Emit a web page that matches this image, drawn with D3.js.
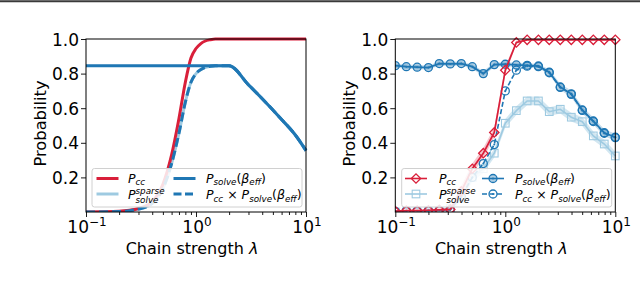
<!DOCTYPE html>
<html><head><meta charset="utf-8">
<script src="https://cdn.jsdelivr.net/npm/d3@7"></script>
<style>body{margin:0;background:#fff}svg{display:block}text{font-family:"DejaVu Sans",sans-serif}</style>
</head><body>
<svg id="c" width="640" height="283"></svg>
<script>
// ---------- data ----------
const yTicks = [0.2, 0.4, 0.6, 0.8, 1.0];
const xMajor = [0.1, 1, 10];
const xMajorExp = ["\u22121", "0", "1"];

// left panel (model curves)
const lamL      = [0.1, 0.2, 0.3, 0.4, 0.5, 0.6, 0.7, 0.8, 0.9, 1.0, 1.1, 1.2, 1.35, 1.5, 2.0, 3.0, 4.0, 6.0, 8.0, 10.0];
const pccL      = [0.0, 0.004, 0.02, 0.06, 0.16, 0.33, 0.54, 0.75, 0.89, 0.945, 0.972, 0.987, 0.996, 1.0, 1.0, 1.0, 1.0, 1.0, 1.0, 1.0];
const psolveL   = [0.845, 0.845, 0.845, 0.845, 0.845, 0.845, 0.845, 0.845, 0.845, 0.845, 0.845, 0.845, 0.845, 0.845, 0.845, 0.735, 0.655, 0.535, 0.445, 0.355];
const prodL     = [0.0, 0.003, 0.017, 0.05, 0.135, 0.28, 0.455, 0.635, 0.75, 0.80, 0.822, 0.834, 0.842, 0.845, 0.845, 0.735, 0.655, 0.535, 0.445, 0.355];
const sparseL   = [0.0, 0.003, 0.017, 0.05, 0.135, 0.28, 0.455, 0.635, 0.75, 0.80, 0.822, 0.834, 0.842, 0.845, 0.845, 0.735, 0.655, 0.535, 0.445, 0.355];

// right panel (measured points)
const lamR    = [0.1, 0.126, 0.158, 0.2, 0.251, 0.316, 0.398, 0.501, 0.631, 0.794, 1.0, 1.26, 1.58, 2.0, 2.51, 3.16, 3.98, 5.01, 6.31, 7.94, 10.0];
const pccR    = [0.005, 0.008, 0.008, 0.01, 0.012, 0.015, 0.12, 0.25, 0.34, 0.46, 0.82, 0.98, 0.995, 0.995, 0.995, 0.995, 0.995, 0.995, 0.995, 0.995, 0.995];
const psolveR = [0.846, 0.84, 0.837, 0.835, 0.858, 0.856, 0.858, 0.84, 0.80, 0.852, 0.854, 0.85, 0.848, 0.844, 0.808, 0.723, 0.683, 0.59, 0.526, 0.458, 0.432];
const prodR   = [0.004, 0.007, 0.007, 0.008, 0.01, 0.013, 0.09, 0.2, 0.28, 0.39, 0.70, 0.82, 0.843, 0.84, 0.805, 0.72, 0.68, 0.587, 0.523, 0.455, 0.43];
const sparseR = [0.0, 0.0, 0.0, 0.002, 0.005, 0.02, 0.08, 0.2, 0.25, 0.34, 0.513, 0.586, 0.642, 0.642, 0.58, 0.594, 0.548, 0.522, 0.44, 0.393, 0.324];
const errSolveR  = [0.012, 0.012, 0.012, 0.012, 0.012, 0.012, 0.012, 0.012, 0.015, 0.012, 0.012, 0.012, 0.012, 0.012, 0.015, 0.018, 0.02, 0.02, 0.02, 0.02, 0.02];
const errSparseR = [0.0, 0.0, 0.0, 0.004, 0.008, 0.015, 0.02, 0.025, 0.025, 0.025, 0.025, 0.025, 0.025, 0.025, 0.025, 0.025, 0.025, 0.025, 0.025, 0.025, 0.025];
const errPccR    = [0.004, 0.005, 0.005, 0.006, 0.008, 0.01, 0.03, 0.03, 0.03, 0.03, 0.025, 0.01, 0.004, 0.004, 0.004, 0.004, 0.004, 0.004, 0.004, 0.004, 0.004];

const RED = "#d91f3a", BLUE = "#1f77b4", LBLUE = "#9ecae1";

// ---------- drawing ----------
const svg = d3.select("#c");
svg.append("line").attr("x1", 0).attr("x2", 640).attr("y1", 1.2).attr("y2", 1.2)
  .attr("stroke", "#3a3a3a").attr("stroke-width", 2);

const Y0 = 212, Y1 = 39;
const y = d3.scaleLinear().domain([0, 1]).range([Y0, Y1]);

function panel(x0, x1) {
  const g = svg.append("g");
  const x = d3.scaleLog().domain([0.1, 10]).range([x0, x1]);
  const clipId = "clip" + Math.round(x0);
  svg.append("clipPath").attr("id", clipId).append("rect")
    .attr("x", x0).attr("y", Y1 - 6).attr("width", x1 - x0 + 6).attr("height", Y0 - Y1 + 6);
  const plot = g.append("g").attr("clip-path", `url(#${clipId})`);
  const ax = g.append("g");
  ax.append("g").attr("transform", `translate(0,${Y0})`)
    .call(d3.axisBottom(x).tickValues(xMajor).tickSize(5).tickFormat(""))
    .call(s => s.select(".domain").remove());
  const minor = [];
  [0.1, 1].forEach(b => { for (let k = 2; k <= 9; k++) minor.push(b * k); });
  ax.append("g").attr("transform", `translate(0,${Y0})`)
    .call(d3.axisBottom(x).tickValues(minor).tickSize(3).tickFormat(""))
    .call(s => s.select(".domain").remove());
  ax.append("g").attr("transform", `translate(${x0},0)`)
    .call(d3.axisLeft(y).tickValues(yTicks).tickSize(5).tickFormat(d3.format(".1f")))
    .call(s => s.select(".domain").remove())
    .call(s => s.selectAll("text").attr("font-size", 17).attr("fill", "#000").attr("x", -7).attr("dy", "0.36em"));
  ax.selectAll(".tick line").attr("stroke", "#000").attr("stroke-width", 0.9);
  xMajor.forEach((v, i) => {
    const t = ax.append("text").attr("y", 233).attr("text-anchor", "middle").attr("font-size", 17).attr("x", x(v) + 1);
    t.append("tspan").text("10");
    t.append("tspan").attr("dy", -7).attr("font-size", 12).text(xMajorExp[i]);
  });
  ax.append("rect").attr("x", x0).attr("y", Y1).attr("width", x1 - x0).attr("height", Y0 - Y1)
    .attr("fill", "none").attr("stroke", "#000").attr("stroke-width", 1);
  g.append("text").attr("transform", `translate(${x0 - 40},${(Y0 + Y1) / 2 - 2}) rotate(-90)`)
    .attr("text-anchor", "middle").attr("font-size", 16.3).text("Probability");
  const xl = g.append("text").attr("x", (x0 + x1) / 2 - 4).attr("y", 254).attr("text-anchor", "middle").attr("font-size", 16);
  xl.append("tspan").text("Chain strength ");
  xl.append("tspan").attr("font-style", "italic").text("\u03bb");
  return { g, plot, x };
}

function mathLabel(g, x, y0, size, pieces) {
  let cx = x;
  const sm = size * 0.7;
  pieces.forEach(p => {
    if (p.stack) {
      const a = g.append("text").attr("x", cx).attr("y", y0 - 5).attr("font-size", sm).attr("font-style", "italic").text(p.sup);
      const b = g.append("text").attr("x", cx).attr("y", y0 + 4).attr("font-size", sm).attr("font-style", "italic").text(p.sub);
      cx += Math.max(a.node().getComputedTextLength(), b.node().getComputedTextLength());
    } else if (p.sub) {
      const b = g.append("text").attr("x", cx).attr("y", y0 + 2.5).attr("font-size", sm).attr("font-style", "italic").text(p.sub);
      cx += b.node().getComputedTextLength();
    } else {
      const a = g.append("text").attr("x", cx).attr("y", y0).attr("font-size", size)
        .attr("font-style", p.up ? "normal" : "italic").text(p.t);
      cx += a.node().getComputedTextLength() + (p.pad || 0);
    }
  });
}

const labPcc = [{ t: "P" }, { sub: "cc" }];
const labSparse = [{ t: "P" }, { stack: true, sup: "sparse", sub: "solve" }];
const labSolve = [{ t: "P" }, { sub: "solve" }, { t: "(", up: true }, { t: "\u03b2" }, { sub: "eff" }, { t: ")", up: true }];
const labProd = [{ t: "P" }, { sub: "cc" }, { t: "\u00a0\u00d7\u00a0", up: true }, { t: "P" }, { sub: "solve" }, { t: "(", up: true }, { t: "\u03b2" }, { sub: "eff" }, { t: ")", up: true }];

function legend(g, bx, bw, c1, c2, t1, t2, items) {
  g.append("rect").attr("x", bx).attr("y", 168.5).attr("width", bw).attr("height", 38.5).attr("rx", 2.5)
    .attr("fill", "#fff").attr("fill-opacity", 0.85).attr("stroke", "#d0d0d0").attr("stroke-width", 1);
  items.forEach((it, i) => {
    const col = i < 2 ? 0 : 1, row = i % 2;
    const lx = col ? c2 : c1, tx = col ? t2 : t1, ly = row ? 194 : 178.5;
    it.draw(g, lx, lx + 22, ly);
    mathLabel(g, tx, ly + (row ? 5 : 4), 12.5, it.label);
  });
}

function marker(sel, type, cx, cy, color, fill) {
  if (type === "diamond") {
    sel.append("rect").attr("x", -3.3).attr("y", -3.3).attr("width", 6.6).attr("height", 6.6)
      .attr("transform", `translate(${cx},${cy}) rotate(45)`)
      .attr("fill", fill).attr("stroke", color).attr("stroke-width", 1.3);
  } else if (type === "square") {
    sel.append("rect").attr("x", cx - 3.8).attr("y", cy - 3.8).attr("width", 7.6).attr("height", 7.6)
      .attr("fill", fill).attr("stroke", color).attr("stroke-width", 1.1);
  } else {
    sel.append("circle").attr("cx", cx).attr("cy", cy).attr("r", 4)
      .attr("fill", fill).attr("stroke", color).attr("stroke-width", 1.3);
    sel.append("circle").attr("cx", cx).attr("cy", cy).attr("r", 1).attr("fill", color);
  }
}

// ---------- left panel ----------
{
  const { g, plot, x } = panel(86, 306);
  const line = (vals) => d3.line().x((d, i) => x(lamL[i])).y(d => y(d)).curve(d3.curveMonotoneX)(vals);
  plot.append("path").attr("d", line(sparseL)).attr("fill", "none").attr("stroke", LBLUE).attr("stroke-width", 3);
  plot.append("path").attr("d", line(pccL)).attr("fill", "none").attr("stroke", RED).attr("stroke-width", 3);
  plot.append("path").attr("d", line(psolveL)).attr("fill", "none").attr("stroke", BLUE).attr("stroke-width", 3);
  plot.append("path").attr("d", line(prodL)).attr("fill", "none").attr("stroke", BLUE).attr("stroke-width", 3)
    .attr("stroke-dasharray", "9,4");
  const lineItem = (c, dash) => ({
    draw: (gg, a, b, yy) => gg.append("line").attr("x1", a).attr("x2", b).attr("y1", yy).attr("y2", yy)
      .attr("stroke", c).attr("stroke-width", 3).attr("stroke-dasharray", dash || null)
  });
  legend(g, 92, 210, 96.5, 173.5, 128, 206, [
    Object.assign(lineItem(RED), { label: labPcc }),
    Object.assign(lineItem(LBLUE), { label: labSparse }),
    Object.assign(lineItem(BLUE), { label: labSolve }),
    Object.assign(lineItem(BLUE, "8,3.5"), { label: labProd })
  ]);
}

// ---------- right panel ----------
{
  const { g, plot, x } = panel(395.3, 615.3);
  const line = (vals) => d3.line().x((d, i) => x(lamR[i])).y(d => y(d))(vals);
  const band = (vals, err) => d3.area().x((d, i) => x(lamR[i])).y0((d, i) => y(d - err[i])).y1((d, i) => y(d + err[i]))(vals);
  plot.append("path").attr("d", band(sparseR, errSparseR)).attr("fill", LBLUE).attr("fill-opacity", 0.45);
  plot.append("path").attr("d", band(psolveR, errSolveR)).attr("fill", BLUE).attr("fill-opacity", 0.25);
  plot.append("path").attr("d", band(pccR, errPccR)).attr("fill", RED).attr("fill-opacity", 0.25);

  const series = [
    { v: sparseR, c: LBLUE, m: "square", fill: "none", dash: null, w: 1.6 },
    { v: psolveR, c: BLUE, m: "circle", fill: "rgba(31,119,180,0.35)", dash: null, w: 1.8 },
    { v: prodR, c: BLUE, m: "circle", fill: "none", dash: "5,2.5", w: 1.6 },
    { v: pccR, c: RED, m: "diamond", fill: "none", dash: null, w: 1.7 }
  ];
  series.forEach(s => {
    plot.append("path").attr("d", line(s.v)).attr("fill", "none").attr("stroke", s.c)
      .attr("stroke-width", s.w).attr("stroke-dasharray", s.dash);
    s.v.forEach((d, i) => marker(plot, s.m, x(lamR[i]), y(d), s.c, s.fill));
  });
  const mItem = (s) => ({
    draw: (gg, a, b, yy) => {
      gg.append("line").attr("x1", a).attr("x2", b).attr("y1", yy).attr("y2", yy)
        .attr("stroke", s.c).attr("stroke-width", 1.6).attr("stroke-dasharray", s.dash);
      marker(gg, s.m, (a + b) / 2, yy, s.c, s.fill);
    }
  });
  legend(g, 401.7, 210, 405, 482, 439, 515, [
    Object.assign(mItem(series[3]), { label: labPcc }),
    Object.assign(mItem(series[0]), { label: labSparse }),
    Object.assign(mItem(series[1]), { label: labSolve }),
    Object.assign(mItem(series[2]), { label: labProd })
  ]);
}
</script>
</body></html>
